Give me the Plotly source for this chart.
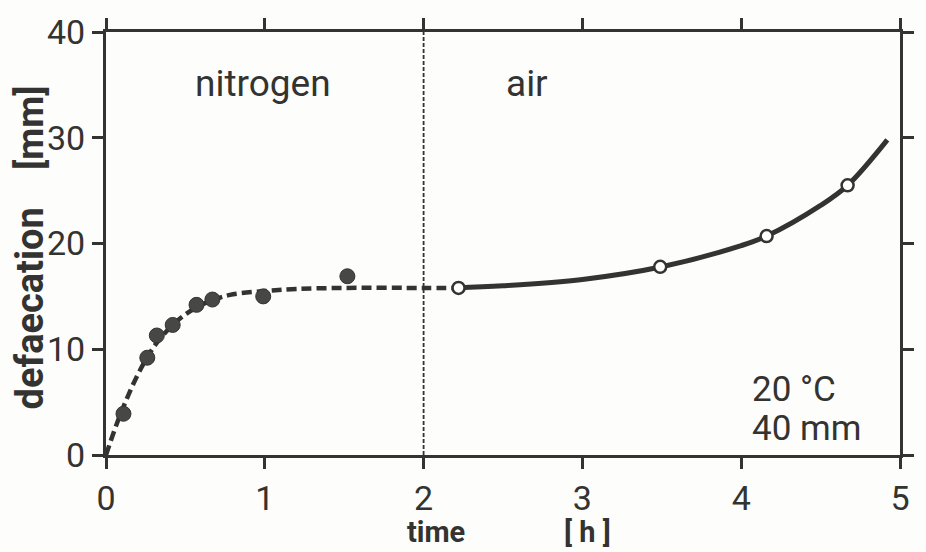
import plotly.graph_objects as go

# Measured defaecation under nitrogen (filled) and after switching to air (open)
nitrogen_t = [0.11, 0.26, 0.32, 0.42, 0.57, 0.67, 0.99, 1.52]
nitrogen_d = [3.9, 9.2, 11.3, 12.3, 14.2, 14.7, 15.0, 16.9]
air_t = [2.22, 3.49, 4.16, 4.67]
air_d = [15.8, 17.8, 20.7, 25.5]

# Hand-drawn trend curves
trend_n_t = [0.0, 0.05, 0.1, 0.2, 0.3, 0.4, 0.5, 0.6, 0.7, 0.8, 1.0, 1.2, 1.5, 2.0, 2.2]
trend_n_d = [0.0, 2.2, 4.2, 7.6, 10.2, 12.0, 13.3, 14.2, 14.8, 15.2, 15.5, 15.7, 15.8, 15.8, 15.8]
trend_a_t = [2.2, 2.5, 3.0, 3.5, 4.0, 4.16, 4.5, 4.67, 4.92]
trend_a_d = [15.8, 16.0, 16.6, 17.8, 19.8, 20.7, 23.6, 25.5, 29.8]

switch_t = 2.0
x_ticks = [0, 1, 2, 3, 4, 5]
y_ticks = [0, 10, 20, 30, 40]

INK = "#333331"
BG = "#fdfdfb"
FONT = "Roboto"

W, H = 926, 552
L, R, T, B = 106, 26, 28, 97


def px(xp):
    return (xp - L) / (W - L - R)


def py(yp):
    return (H - B - yp) / (H - T - B)


fig = go.Figure()

fig.add_trace(go.Scatter(
    x=trend_n_t, y=trend_n_d, mode="lines", line_shape="spline",
    line=dict(color=INK, width=4.5, dash="10px,5px"), hoverinfo="skip",
))
fig.add_trace(go.Scatter(
    x=trend_a_t, y=trend_a_d, mode="lines", line_shape="spline",
    line=dict(color=INK, width=5), hoverinfo="skip",
))
fig.add_trace(go.Scatter(
    x=nitrogen_t, y=nitrogen_d, mode="markers",
    marker=dict(size=15, color="#474745", line=dict(color=INK, width=1)),
))
fig.add_trace(go.Scatter(
    x=air_t, y=air_d, mode="markers",
    marker=dict(size=12, color="white", line=dict(color=INK, width=2.5)),
))

fig.add_shape(type="line", xref="x", yref="paper", x0=switch_t, x1=switch_t,
              y0=0, y1=1, line=dict(color=INK, width=1.8, dash="4px,2px"))

axis_common = dict(
    showline=True, linecolor=INK, linewidth=3, mirror="ticks",
    ticks="outside", ticklen=11, tickwidth=3, tickcolor=INK,
    showgrid=False, zeroline=False,
    tickfont=dict(family=FONT, size=34, color=INK),
)

fig.update_xaxes(range=[0, 5], tickvals=x_ticks, ticklabelstandoff=0, **axis_common)
fig.update_yaxes(range=[0, 40], tickvals=y_ticks, ticklabelstandoff=0, **axis_common)

annotations = [
    dict(text="nitrogen", x=px(263), y=py(80), size=37),
    dict(text="air", x=px(527), y=py(80), size=37),
    dict(text="20 °C", x=px(750), y=py(389), size=35, xanchor="left"),
    dict(text="40 mm", x=px(750), y=py(428), size=35, xanchor="left"),
    dict(text="<b>time</b>", x=px(436), y=py(533), size=29),
    dict(text="<b>[ h ]</b>", x=px(587), y=py(533), size=29),
    dict(text="<b>defaecation</b>", x=px(30), y=py(307), size=38, angle=-90),
    dict(text="<b>[mm]</b>", x=px(30), y=py(125), size=37, angle=-90),
]
for a in annotations:
    fig.add_annotation(
        text=a["text"], x=a["x"], y=a["y"], xref="paper", yref="paper",
        showarrow=False, xanchor=a.get("xanchor", "center"), yanchor="middle",
        textangle=a.get("angle", 0),
        font=dict(family=FONT, size=a["size"], color=INK),
    )

fig.update_layout(
    width=W, height=H,
    margin=dict(l=L, r=R, t=T, b=B),
    paper_bgcolor=BG, plot_bgcolor=BG,
    showlegend=False,
)

fig.write_html("out.html")
